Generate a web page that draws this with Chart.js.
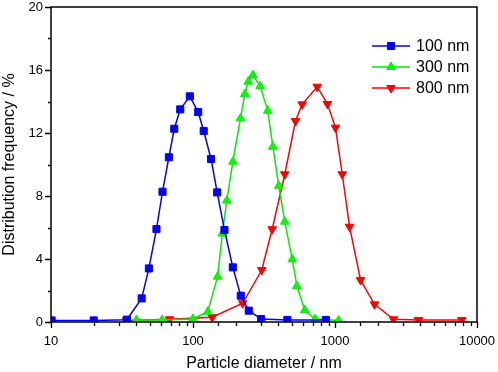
<!DOCTYPE html>
<html>
<head>
<meta charset="utf-8">
<script src="https://cdn.jsdelivr.net/npm/chart.js@4/dist/chart.umd.min.js"></script>
<style>
  html, body { margin: 0; padding: 0; background: #fff; }
  #wrap { width: 498px; height: 372px; }
</style>
</head>
<body>
<div id="wrap"><canvas id="sizeChart"></canvas></div>
<script>
// particle diameter (nm) and distribution frequency (%) for each sample
const d100 = [10.1, 20, 34.2, 43.5, 48.9, 55.3, 61, 67.6, 73.8, 81.3, 95, 108.8, 119, 134, 148, 166.6, 190.7, 217, 247, 302, 462, 862];
const f100 = [0.1, 0.1, 0.15, 1.5, 3.4, 5.9, 8.27, 10.46, 12.27, 13.5, 14.33, 13.33, 12.13, 10.35, 8.23, 5.84, 3.47, 1.67, 0.72, 0.19, 0.13, 0.13];

const d300 = [40, 60.6, 100, 127, 149, 161, 173, 191, 216, 232, 245, 264, 297, 336, 365, 402, 443, 500, 539, 613, 726, 1060];
const f300 = [0.13, 0.13, 0.19, 0.65, 2.88, 5.62, 7.71, 10.18, 12.93, 14.48, 15.26, 15.68, 14.98, 13.42, 11.13, 8.65, 6.37, 3.98, 2.29, 0.76, 0.19, 0.1];

const d800 = [34, 68.4, 136.5, 224, 305, 361, 443, 527, 587, 750, 886, 1008, 1125, 1266, 1513, 1898, 2582, 3873, 7820];
const f800 = [0.1, 0.17, 0.3, 1.19, 3.3, 5.89, 9.38, 12.76, 13.82, 14.94, 13.84, 12.34, 9.38, 6.05, 2.67, 1.12, 0.17, 0.13, 0.13];

const seriesNames = ['100 nm', '300 nm', '800 nm'];
const xLabels = [10, 100, 1000, 10000];
const yLabels = [0, 4, 8, 12, 16, 20];

const FONT = 'Arial, "Liberation Sans", sans-serif';

const toPoints = (xs, ys) => xs.map((x, i) => ({ x: x, y: ys[i] }));

// ticks outside the frame, long for labelled values, short otherwise; plus the box
const frameTicks = {
    id: 'frameTicks',
    afterDatasetsDraw(chart) {
        const { ctx, chartArea: a, scales } = chart;
        ctx.save();
        ctx.strokeStyle = '#000';
        ctx.lineWidth = 1.3;
        ctx.beginPath();
        scales.x.ticks.forEach(t => {
            const px = Math.round(scales.x.getPixelForValue(t.value)) + 0.5;
            const len = xLabels.includes(t.value) ? 6 : 4;
            ctx.moveTo(px, a.bottom);
            ctx.lineTo(px, a.bottom + len);
        });
        scales.y.ticks.forEach(t => {
            const py = Math.round(scales.y.getPixelForValue(t.value)) + 0.5;
            const len = yLabels.includes(t.value) ? 6 : 3;
            ctx.moveTo(a.left, py);
            ctx.lineTo(a.left - len, py);
        });
        ctx.stroke();
        ctx.lineWidth = 1.5;
        ctx.strokeRect(a.left, a.top, a.right - a.left, a.bottom - a.top);
        ctx.restore();
    }
};

// legend with a line and marker sample, as in the original plot
const lineLegend = {
    id: 'lineLegend',
    afterDraw(chart) {
        const { ctx } = chart;
        ctx.save();
        ctx.font = '16px ' + FONT;
        ctx.textBaseline = 'middle';
        chart.data.datasets.forEach((ds, i) => {
            const y = 46 + i * 21;
            ctx.strokeStyle = ds.borderColor;
            ctx.lineWidth = 1.5;
            ctx.beginPath();
            ctx.moveTo(372, y);
            ctx.lineTo(410, y);
            ctx.stroke();
            ctx.fillStyle = ds.backgroundColor;
            ctx.strokeStyle = ds.borderColor;
            ctx.lineWidth = 1;
            Chart.helpers.drawPoint(ctx, {
                pointStyle: ds.pointStyle,
                rotation: ds.pointRotation || 0,
                radius: ds.pointRadius,
                borderWidth: 1
            }, 391, y);
            ctx.fillStyle = '#000';
            ctx.fillText(ds.label, 416, y + 1);
        });
        ctx.restore();
    }
};

const ctxSize = document.getElementById('sizeChart').getContext('2d');
new Chart(ctxSize, {
    type: 'line',
    data: {
        datasets: [
            {
                label: seriesNames[0],
                data: toPoints(d100, f100),
                borderColor: '#0000ff',
                backgroundColor: '#0000ff',
                pointStyle: 'rect',
                pointRadius: 5,
                pointBorderWidth: 1,
                borderWidth: 1.5
            },
            {
                label: seriesNames[1],
                data: toPoints(d300, f300),
                borderColor: '#00ee00',
                backgroundColor: '#00ff00',
                pointStyle: 'triangle',
                pointRadius: 5,
                pointBorderWidth: 1,
                borderWidth: 1.5
            },
            {
                label: seriesNames[2],
                data: toPoints(d800, f800),
                borderColor: '#ff0000',
                backgroundColor: '#ff0000',
                pointStyle: 'triangle',
                pointRotation: 180,
                pointRadius: 5,
                pointBorderWidth: 1,
                borderWidth: 1.5
            }
        ]
    },
    options: {
        responsive: true,
        maintainAspectRatio: false,
        animation: false,
        layout: { padding: { top: 7, right: 21, left: 0, bottom: 0 } },
        plugins: {
            legend: { display: false },
            tooltip: { enabled: false }
        },
        scales: {
            x: {
                type: 'logarithmic',
                min: 10,
                max: 10000,
                afterFit: s => { s.height = 50; s.paddingLeft = 0; s.paddingRight = 0; },
                border: { display: false },
                grid: { display: false, drawTicks: false },
                ticks: {
                    autoSkip: false,
                    maxRotation: 0,
                    padding: 12,
                    color: '#000',
                    font: { family: FONT, size: 13 },
                    callback: v => xLabels.includes(v) ? String(v) : ''
                },
                title: {
                    display: true,
                    text: 'Particle diameter / nm',
                    color: '#000',
                    font: { family: FONT, size: 16, lineHeight: 1 },
                    padding: { top: 0, bottom: 0 }
                }
            },
            y: {
                min: 0,
                max: 20,
                afterFit: s => { s.width = 51; s.paddingTop = 0; s.paddingBottom = 0; },
                border: { display: false },
                grid: { display: false, drawTicks: false },
                ticks: {
                    stepSize: 2,
                    autoSkip: false,
                    padding: 8,
                    color: '#000',
                    font: { family: FONT, size: 13 },
                    callback: v => yLabels.includes(v) ? String(v) : ''
                },
                title: {
                    display: true,
                    text: 'Distribution frequency / %',
                    color: '#000',
                    font: { family: FONT, size: 16 },
                    padding: { top: 0, bottom: 0 }
                }
            }
        }
    },
    plugins: [frameTicks, lineLegend]
});
</script>
</body>
</html>
